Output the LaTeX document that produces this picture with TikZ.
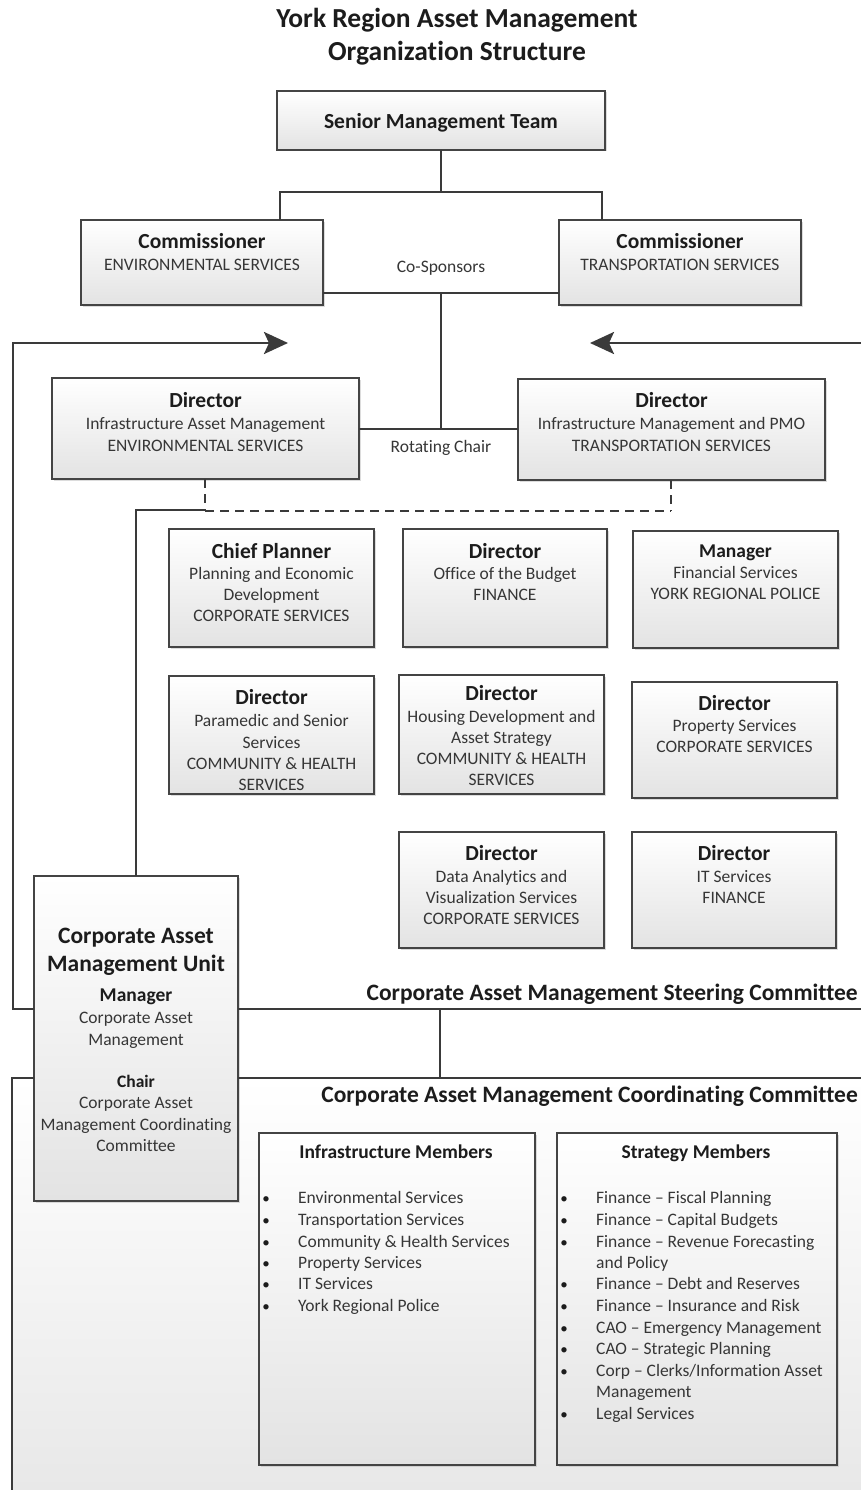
\documentclass[tikz,border=0pt]{standalone}
\usepackage{fontspec}
\setmainfont{Carlito}[RawFeature={-liga}]
\usetikzlibrary{arrows.meta,shadows}
\definecolor{edge}{HTML}{444444}
\definecolor{ink}{HTML}{1C1C1C}
\definecolor{body}{HTML}{363636}
\definecolor{wire}{HTML}{3A3A3A}
\tikzset{
  orgbox/.style={draw=edge, line width=2.5pt, top color=white, bottom color=black!11, anchor=north west, inner sep=0pt, outer sep=0pt,
    drop shadow={shadow xshift=1.5pt, shadow yshift=-1.5pt, fill=black!30, opacity=0.45}},
  conn/.style={draw=wire, line width=1.6pt},
  thick conn/.style={draw=wire, line width=2.8pt},
  dashconn/.style={draw=wire, line width=1.6pt, dash pattern=on 9pt off 6pt},
  ttl/.style={font=\bfseries\fontsize{27.5}{33}\selectfont, text=ink, anchor=base, yshift=-9pt, inner sep=0pt},
  hd/.style={font=\bfseries\fontsize{21.5}{26}\selectfont, text=ink, anchor=base, yshift=-7pt, inner sep=0pt},
  hdm/.style={font=\bfseries\fontsize{19.5}{24}\selectfont, text=ink, anchor=base, yshift=-6.3pt, inner sep=0pt},
  hdb/.style={font=\bfseries\fontsize{23.5}{28}\selectfont, text=ink, anchor=base, yshift=-7.6pt, inner sep=0pt},
  hdc/.style={font=\bfseries\fontsize{17.5}{21.5}\selectfont, text=ink, anchor=base, yshift=-5.6pt, inner sep=0pt},
  tx/.style={font=\fontsize{17.5}{21.5}\selectfont, text=body, anchor=base, yshift=-5.6pt, inner sep=0pt},
  txl/.style={tx, anchor=base west},
  bul/.style={font=\fontsize{15}{18}\selectfont, text=ink, anchor=base, yshift=-5.6pt, inner sep=0pt},
  cmt/.style={hdb, anchor=base east},
  bigtip/.style={-{Stealth[length=24pt, width=22pt, inset=5pt]}},
}
\begin{document}
\begin{tikzpicture}[x=1pt, y=-1pt]
\useasboundingbox (0,0) rectangle (861,1490);
\fill[white] (0,0) rectangle (861,1490);

% title
\node[ttl] (t1) at (457,19) {York Region Asset Management};
\node[ttl] (t2) at (457,52) {Organization Structure};

% coordinating committee background
\shade[top color=white, bottom color=black!9] (12,1078) rectangle (861,1490);

% boxes
\node[orgbox, minimum width=328pt, minimum height=59pt] (smt) at (277,91) {};
\node[orgbox, minimum width=242pt, minimum height=85pt] (comL) at (81,220) {};
\node[orgbox, minimum width=242pt, minimum height=85pt] (comR) at (559,220) {};
\node[orgbox, minimum width=307pt, minimum height=101pt] (dirL) at (52,378) {};
\node[orgbox, minimum width=307pt, minimum height=101pt] (dirR) at (518,379) {};
\node[orgbox, minimum width=205pt, minimum height=118pt] (cp) at (169,529) {};
\node[orgbox, minimum width=204pt, minimum height=118pt] (bud) at (403,529) {};
\node[orgbox, minimum width=205pt, minimum height=117pt] (pol) at (633,531) {};
\node[orgbox, minimum width=205pt, minimum height=118pt] (para) at (169,676) {};
\node[orgbox, minimum width=205pt, minimum height=119pt] (hous) at (399,675) {};
\node[orgbox, minimum width=205pt, minimum height=116pt] (prop) at (632,682) {};
\node[orgbox, minimum width=205pt, minimum height=116pt] (data) at (399,832) {};
\node[orgbox, minimum width=204pt, minimum height=116pt] (its) at (632,832) {};
\node[orgbox, minimum width=276pt, minimum height=332pt] (infm) at (259,1133) {};
\node[orgbox, minimum width=280pt, minimum height=332pt] (strm) at (557,1133) {};

% connectors top
\coordinate (j1) at (441,192);
\coordinate (cl) at (280,192);
\coordinate (cr) at (602,192);
\draw[conn, line width=1.3pt] (smt.south) -- (j1);
\draw[conn, line width=2.2pt] (cl |- comL.north) -- (cl) -- (cr) -- (cr |- comR.north);
\coordinate (cs) at (441,293);
\coordinate (rc) at (441,429);
\draw[conn, line width=2.2pt] (cs -| comL.east) -- (cs -| comR.west);
\draw[conn, line width=1.3pt] (cs) -- (rc);
\draw[conn, line width=1.3pt] (rc -| dirL.east) -- (rc -| dirR.west);
\node[tx] (cosp) at (441,267) {Co-Sponsors};
\node[tx] (rotc) at (441,447) {Rotating Chair};

% dashed links
\coordinate (dl) at (205,511);
\coordinate (dr) at (671,511);
\coordinate (dk) at (136,510);
\draw[dashconn] (dl |- dirL.south) -- (dl);
\draw[dashconn] (dr |- dirR.south) -- (dr);
\draw[dashconn] (dl) -- (dr);

% CAMU box
\node[orgbox, minimum width=204pt, minimum height=325pt] (camu) at (34,876) {};
\draw[conn, line width=1.3pt] (dl |- dk) -- (dk) -- (dk |- camu.north);

% steering loop and arrows
\coordinate (al) at (13,343);
\coordinate (alt) at (288,343);
\coordinate (ar) at (861,343);
\coordinate (art) at (590,343);
\coordinate (sl) at (13,1009);
\coordinate (sr) at (861,1009);
\draw[thick conn, bigtip] (camu.west |- sl) -- (sl) -- (al) -- (alt);
\draw[thick conn, bigtip] (ar) -- (art);
\draw[thick conn] (camu.east |- sl) -- (sr);
\coordinate (sc) at (440,1009);
\coordinate (cc) at (440,1078);
\draw[thick conn] (sc) -- (cc);
\coordinate (ccl) at (12,1078);
\coordinate (ccr) at (861,1078);
\coordinate (ccb) at (12,1490);
\draw[thick conn] (camu.west |- ccl) -- (ccl) -- (ccb);
\draw[thick conn] (camu.east |- ccl) -- (ccr);
\node[cmt] (steer) at (858,993) {Corporate Asset Management Steering Committee};
\node[cmt] (coord) at (858,1095) {Corporate Asset Management Coordinating Committee};

% box texts
\node[hd] (smt1) at (441,122) {Senior Management Team};
\node[hd] (cl1) at (202,241) {Commissioner};
\node[tx] (cl2) at (202,265) {ENVIRONMENTAL SERVICES};
\node[hd] (cr1) at (680,241) {Commissioner};
\node[tx] (cr2) at (680,265) {TRANSPORTATION SERVICES};
\node[hd] (dl1) at (205.5,400) {Director};
\node[tx] (dl2) at (205.5,424) {Infrastructure Asset Management};
\node[tx] (dl3) at (205.5,446) {ENVIRONMENTAL SERVICES};
\node[hd] (dr1) at (671.5,400) {Director};
\node[tx] (dr2) at (671.5,424) {Infrastructure Management and PMO};
\node[tx] (dr3) at (671.5,446) {TRANSPORTATION SERVICES};

\node[hd] (cp1) at (271.5,551) {Chief Planner};
\node[tx] (cp2) at (271.5,574) {Planning and Economic};
\node[tx] (cp3) at (271.5,595) {Development};
\node[tx] (cp4) at (271.5,616) {CORPORATE SERVICES};
\node[hd] (bu1) at (505,551) {Director};
\node[tx] (bu2) at (505,574) {Office of the Budget};
\node[tx] (bu3) at (505,595) {FINANCE};
\node[hdm] (po1) at (735.5,551) {Manager};
\node[tx] (po2) at (735.5,573) {Financial Services};
\node[tx] (po3) at (735.5,594) {YORK REGIONAL POLICE};

\node[hd] (pa1) at (271.5,697) {Director};
\node[tx] (pa2) at (271.5,721) {Paramedic and Senior};
\node[tx] (pa3) at (271.5,743) {Services};
\node[tx] (pa4) at (271.5,764) {COMMUNITY \& HEALTH};
\node[tx] (pa5) at (271.5,785) {SERVICES};
\node[hd] (ho1) at (501.5,693) {Director};
\node[tx] (ho2) at (501.5,717) {Housing Development and};
\node[tx] (ho3) at (501.5,738) {Asset Strategy};
\node[tx] (ho4) at (501.5,759) {COMMUNITY \& HEALTH};
\node[tx] (ho5) at (501.5,780) {SERVICES};
\node[hd] (pr1) at (734.5,703) {Director};
\node[tx] (pr2) at (734.5,726) {Property Services};
\node[tx] (pr3) at (734.5,747) {CORPORATE SERVICES};

\node[hd] (da1) at (501.5,853) {Director};
\node[tx] (da2) at (501.5,877) {Data Analytics and};
\node[tx] (da3) at (501.5,898) {Visualization Services};
\node[tx] (da4) at (501.5,919) {CORPORATE SERVICES};
\node[hd] (its1) at (734,853) {Director};
\node[tx] (its2) at (734,877) {IT Services};
\node[tx] (its3) at (734,898) {FINANCE};

\node[hdb] (cu1) at (136,936) {Corporate Asset};
\node[hdb] (cu2) at (136,964) {Management Unit};
\node[hdm] (cu3) at (136,995) {Manager};
\node[tx] (cu4) at (136,1018) {Corporate Asset};
\node[tx] (cu5) at (136,1040) {Management};
\node[hdc] (cu6) at (136,1082) {Chair};
\node[tx] (cu7) at (136,1103) {Corporate Asset};
\node[tx] (cu8) at (136,1125) {Management Coordinating};
\node[tx] (cu9) at (136,1146) {Committee};

% member lists
\node[hdm] (im0) at (396,1152) {Infrastructure Members};
\node[hdm] (sm0) at (696,1152) {Strategy Members};

\foreach \yy/\lbl [count=\i] in {1198/{Environmental Services}, 1220/{Transportation Services}, 1242/{Community \& Health Services}, 1263/{Property Services}, 1284/{IT Services}, 1306/{York Regional Police}}{
  \node[bul] (ib\i) at (266,\yy) {•};
  \node[txl] (il\i) at (298,\yy) {\lbl};
}
\foreach \yy/\lbl [count=\i] in {1198/{Finance – Fiscal Planning}, 1220/{Finance – Capital Budgets}, 1242/{Finance – Revenue Forecasting}, 1284/{Finance – Debt and Reserves}, 1306/{Finance – Insurance and Risk}, 1328/{CAO – Emergency Management}, 1349/{CAO – Strategic Planning}, 1371/{Corp – Clerks/Information Asset}, 1414/{Legal Services}}{
  \node[bul] (sb\i) at (564,\yy) {•};
  \node[txl] (sl\i) at (596,\yy) {\lbl};
}
\node[txl] (slc1) at (596,1263) {and Policy};
\node[txl] (slc2) at (596,1392) {Management};
\end{tikzpicture}
\end{document}
